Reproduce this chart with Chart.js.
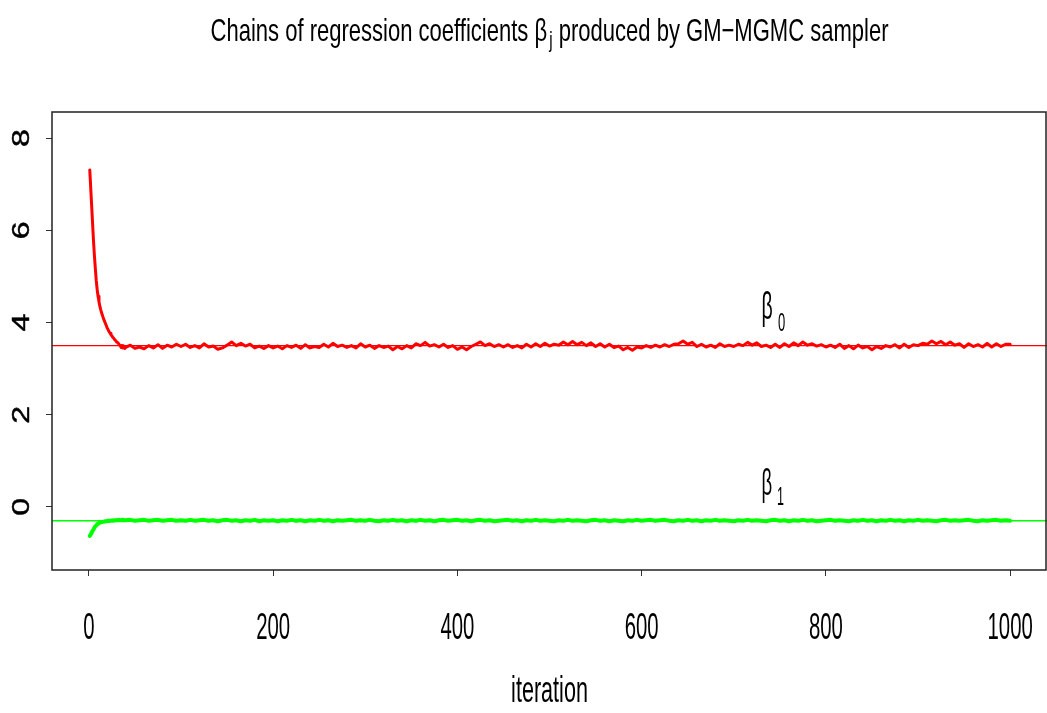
<!DOCTYPE html>
<html>
<head>
<meta charset="utf-8">
<title>GM-MGMC chains</title>
<script src="https://cdn.jsdelivr.net/npm/chart.js@4.4.1/dist/chart.umd.min.js"></script>
<style>
  html, body { margin: 0; padding: 0; background: #fff; }
  #chains { display: block; }
</style>
</head>
<body>
<canvas id="chains" width="1047" height="713"></canvas>
<script>
/* Trace plot of the two regression coefficient chains from the GM-MGMC sampler. */

// burn-in iterations are kept one by one, the rest of the chain is thinned by 5
var burnIter = [1, 2, 3, 4, 5, 6, 7, 8, 9, 10, 11, 12, 13, 14, 15, 16, 17, 18, 19, 20,
  21, 22, 23, 24, 25, 26, 27, 28, 29, 30, 31, 32, 33, 34, 35, 36, 37, 38, 39];
var thinIter = [];
for (var it = 40; it <= 1000; it += 5) thinIter.push(it);
var iterations = burnIter.concat(thinIter);

var beta0Burn = [7.31, 6.93, 6.55, 6.17, 5.79, 5.46, 5.18, 4.92, 4.72, 4.57,
  4.45, 4.35, 4.27, 4.20, 4.14, 4.08, 4.03, 3.98, 3.93, 3.88,
  3.84, 3.80, 3.77, 3.74, 3.71, 3.68, 3.66, 3.63, 3.61, 3.58,
  3.57, 3.55, 3.52, 3.50, 3.46, 3.50, 3.45, 3.49, 3.44];
var beta0Thin = [
  3.46, 3.51, 3.44, 3.47, 3.43, 3.50, 3.45, 3.52, 3.44, 3.51, 3.47, 3.53,
  3.48, 3.53, 3.46, 3.50, 3.45, 3.54, 3.47, 3.49, 3.42, 3.45,
  3.51, 3.58, 3.50, 3.55, 3.49, 3.53, 3.45, 3.49, 3.44, 3.50,
  3.45, 3.49, 3.43, 3.50, 3.46, 3.51, 3.44, 3.52, 3.45, 3.48,
  3.46, 3.53, 3.47, 3.55, 3.48, 3.51, 3.46, 3.50, 3.45, 3.54,
  3.47, 3.51, 3.44, 3.50, 3.46, 3.49, 3.41, 3.48, 3.43, 3.50,
  3.45, 3.54, 3.50, 3.57, 3.49, 3.52, 3.47, 3.53, 3.46, 3.50,
  3.42, 3.47, 3.41, 3.48, 3.53, 3.58, 3.50, 3.54, 3.48, 3.52,
  3.47, 3.52, 3.46, 3.50, 3.45, 3.53, 3.47, 3.54, 3.48, 3.55,
  3.49, 3.53, 3.51, 3.58, 3.52, 3.59, 3.52, 3.57, 3.50, 3.56,
  3.48, 3.54, 3.47, 3.53, 3.46, 3.49, 3.41, 3.46, 3.40, 3.47,
  3.45, 3.50, 3.46, 3.51, 3.47, 3.52, 3.48, 3.53, 3.54, 3.60,
  3.53, 3.57, 3.48, 3.53, 3.47, 3.51, 3.46, 3.54, 3.48, 3.51,
  3.48, 3.53, 3.50, 3.57, 3.51, 3.56, 3.48, 3.51, 3.46, 3.53,
  3.46, 3.54, 3.48, 3.56, 3.50, 3.58, 3.51, 3.54, 3.49, 3.52,
  3.47, 3.51, 3.46, 3.53, 3.44, 3.50, 3.43, 3.51, 3.45, 3.48,
  3.41, 3.48, 3.44, 3.50, 3.47, 3.52, 3.45, 3.53, 3.46, 3.52,
  3.50, 3.55, 3.53, 3.60, 3.54, 3.59, 3.52, 3.58, 3.51, 3.54,
  3.46, 3.54, 3.48, 3.52, 3.47, 3.55, 3.47, 3.54, 3.48, 3.53,
  3.53];

var beta1Burn = [-0.63, -0.60, -0.56, -0.52, -0.49, -0.45, -0.42, -0.40, -0.38, -0.36,
  -0.35, -0.34, -0.335, -0.33, -0.325, -0.32, -0.315, -0.31, -0.31, -0.305,
  -0.30, -0.305, -0.30, -0.30, -0.295, -0.30, -0.29, -0.295, -0.29, -0.285,
  -0.29, -0.28, -0.29, -0.285, -0.29, -0.28, -0.29, -0.285, -0.29];
var beta1Thin = [
  -0.29, -0.28, -0.30, -0.29, -0.28, -0.30, -0.29, -0.28, -0.30, -0.29, -0.28, -0.30,
  -0.29, -0.30, -0.28, -0.30, -0.29, -0.28, -0.30, -0.29, -0.31, -0.29,
  -0.28, -0.30, -0.29, -0.31, -0.29, -0.30, -0.28, -0.31, -0.29, -0.30,
  -0.29, -0.31, -0.29, -0.30, -0.28, -0.30, -0.29, -0.31, -0.29, -0.30,
  -0.28, -0.30, -0.29, -0.31, -0.29, -0.30, -0.29, -0.28, -0.30, -0.29,
  -0.30, -0.28, -0.30, -0.31, -0.29, -0.30, -0.28, -0.30, -0.29, -0.31,
  -0.29, -0.30, -0.28, -0.30, -0.29, -0.31, -0.29, -0.28, -0.30, -0.29,
  -0.28, -0.30, -0.29, -0.31, -0.29, -0.28, -0.30, -0.29, -0.31, -0.30,
  -0.29, -0.28, -0.30, -0.29, -0.31, -0.29, -0.30, -0.28, -0.30, -0.29,
  -0.30, -0.31, -0.29, -0.30, -0.28, -0.30, -0.29, -0.30, -0.31, -0.29,
  -0.28, -0.30, -0.29, -0.31, -0.29, -0.30, -0.31, -0.29, -0.30, -0.28,
  -0.30, -0.29, -0.28, -0.30, -0.29, -0.28, -0.30, -0.31, -0.29, -0.30,
  -0.28, -0.30, -0.29, -0.31, -0.29, -0.30, -0.28, -0.30, -0.29, -0.30,
  -0.31, -0.29, -0.30, -0.28, -0.30, -0.29, -0.30, -0.31, -0.29, -0.28,
  -0.30, -0.29, -0.31, -0.29, -0.30, -0.28, -0.30, -0.29, -0.31, -0.30,
  -0.29, -0.28, -0.30, -0.29, -0.30, -0.31, -0.29, -0.30, -0.28, -0.30,
  -0.29, -0.31, -0.29, -0.30, -0.28, -0.30, -0.29, -0.31, -0.29, -0.30,
  -0.28, -0.30, -0.29, -0.30, -0.31, -0.29, -0.28, -0.30, -0.29, -0.30,
  -0.29, -0.28, -0.30, -0.31, -0.29, -0.30, -0.29, -0.28, -0.30, -0.29,
  -0.30];

var beta0 = beta0Burn.concat(beta0Thin);
var beta1 = beta1Burn.concat(beta1Thin);

// posterior means marked with horizontal lines
var beta0Mean = 3.50;
var beta1Mean = -0.30;

var xTicks = [0, 200, 400, 600, 800, 1000];
var yTicks = [0, 2, 4, 6, 8];
var xRange = [-40, 1040];
var yRange = [-1.368, 8.568];

var FONT = "'Liberation Sans', Arial, Helvetica, sans-serif";

function points(values) {
  return values.map(function (v, i) { return { x: iterations[i], y: v }; });
}

function hline(value) {
  return [{ x: xRange[0], y: value }, { x: xRange[1], y: value }];
}

// Draws runs of text on one baseline, squeezed horizontally by sx (or to fit a width).
function drawRich(ctx, parts, x, y, opts) {
  var total = 0;
  ctx.save();
  parts.forEach(function (p) {
    ctx.font = p.size + "px " + FONT;
    p.w = ctx.measureText(p.text).width + (p.dx || 0);
    total += p.w;
  });
  var sx = opts.width ? opts.width / total : opts.sx;
  ctx.translate(x, y);
  ctx.scale(sx, 1);
  if (opts.rotate) ctx.rotate(opts.rotate);
  var cx = opts.align === "center" ? -total / 2 : 0;
  ctx.fillStyle = "#000";
  ctx.strokeStyle = "#000";
  ctx.lineWidth = opts.weight || 0;
  ctx.textAlign = "left";
  ctx.textBaseline = "alphabetic";
  parts.forEach(function (p) {
    ctx.font = p.size + "px " + FONT;
    ctx.fillText(p.text, cx + (p.dx || 0), p.dy || 0);
    if (opts.weight) ctx.strokeText(p.text, cx + (p.dx || 0), p.dy || 0);
    cx += p.w;
  });
  ctx.restore();
}

var framePlugin = {
  id: "frameAndText",
  afterDraw: function (chart) {
    var ctx = chart.ctx;
    var area = chart.chartArea;
    var xs = chart.scales.x;
    var ys = chart.scales.y;

    ctx.save();
    ctx.strokeStyle = "#222";
    ctx.lineWidth = 1.5;
    ctx.strokeRect(area.left, area.top, area.right - area.left - 1, area.bottom - area.top);
    ctx.restore();

    drawRich(ctx, [
      { text: "Chains of regression coefficients \u03b2", size: 32 },
      { text: "j", size: 22, dy: 6, dx: 3 },
      { text: " produced by GM\u2212MGMC sampler", size: 32 }
    ], (area.left + area.right) / 2, 41, { width: 678, align: "center" });

    xs.ticks.forEach(function (t) {
      drawRich(ctx, [{ text: String(t.value), size: 36 }],
        xs.getPixelForValue(t.value), 639, { sx: 0.565, align: "center" });
    });
    ys.ticks.forEach(function (t) {
      drawRich(ctx, [{ text: String(t.value), size: 32 }],
        29, ys.getPixelForValue(t.value), { sx: 0.75, rotate: -Math.PI / 2, align: "center", weight: 0.6 });
    });

    drawRich(ctx, [{ text: "iteration", size: 36 }],
      (area.left + area.right) / 2, 702, { sx: 0.6, align: "center" });

    drawRich(ctx, [
      { text: "\u03b2", size: 39 },
      { text: "0", size: 26, dy: 12, dx: 11 }
    ], xs.getPixelForValue(730), ys.getPixelForValue(4.08), { sx: 0.5 });
    drawRich(ctx, [
      { text: "\u03b2", size: 37 },
      { text: "1", size: 25, dy: 10, dx: 10 }
    ], xs.getPixelForValue(730), ys.getPixelForValue(0.26), { sx: 0.5 });
  }
};

var lineStyle = { pointRadius: 0, tension: 0, fill: false, borderCapStyle: "round", borderJoinStyle: "round" };

new Chart(document.getElementById("chains"), {
  type: "line",
  data: {
    datasets: [
      Object.assign({ label: "beta0", data: points(beta0), borderColor: "#ff0000", borderWidth: 3 }, lineStyle),
      Object.assign({ label: "beta1", data: points(beta1), borderColor: "#00ff00", borderWidth: 4 }, lineStyle),
      Object.assign({ label: "beta0 mean", data: hline(beta0Mean), borderColor: "#ff0000", borderWidth: 1.2 }, lineStyle),
      Object.assign({ label: "beta1 mean", data: hline(beta1Mean), borderColor: "#00ff00", borderWidth: 1.3 }, lineStyle)
    ]
  },
  options: {
    responsive: false,
    animation: false,
    devicePixelRatio: 1,
    layout: { padding: { top: 112, right: 0, left: 0, bottom: 0 } },
    plugins: { legend: { display: false }, tooltip: { enabled: false }, title: { display: false } },
    scales: {
      x: {
        type: "linear",
        min: xRange[0],
        max: xRange[1],
        afterBuildTicks: function (s) { s.ticks = xTicks.map(function (v) { return { value: v }; }); },
        afterFit: function (s) { s.height = 143; },
        ticks: { display: false },
        border: { display: false },
        grid: { drawOnChartArea: false, drawTicks: true, tickLength: 6, color: "#333", lineWidth: 1 }
      },
      y: {
        type: "linear",
        min: yRange[0],
        max: yRange[1],
        afterBuildTicks: function (s) { s.ticks = yTicks.map(function (v) { return { value: v }; }); },
        afterFit: function (s) { s.width = 52; },
        ticks: { display: false },
        border: { display: false },
        grid: { drawOnChartArea: false, drawTicks: true, tickLength: 6, color: "#333", lineWidth: 1 }
      }
    }
  },
  plugins: [framePlugin]
});
</script>
</body>
</html>
